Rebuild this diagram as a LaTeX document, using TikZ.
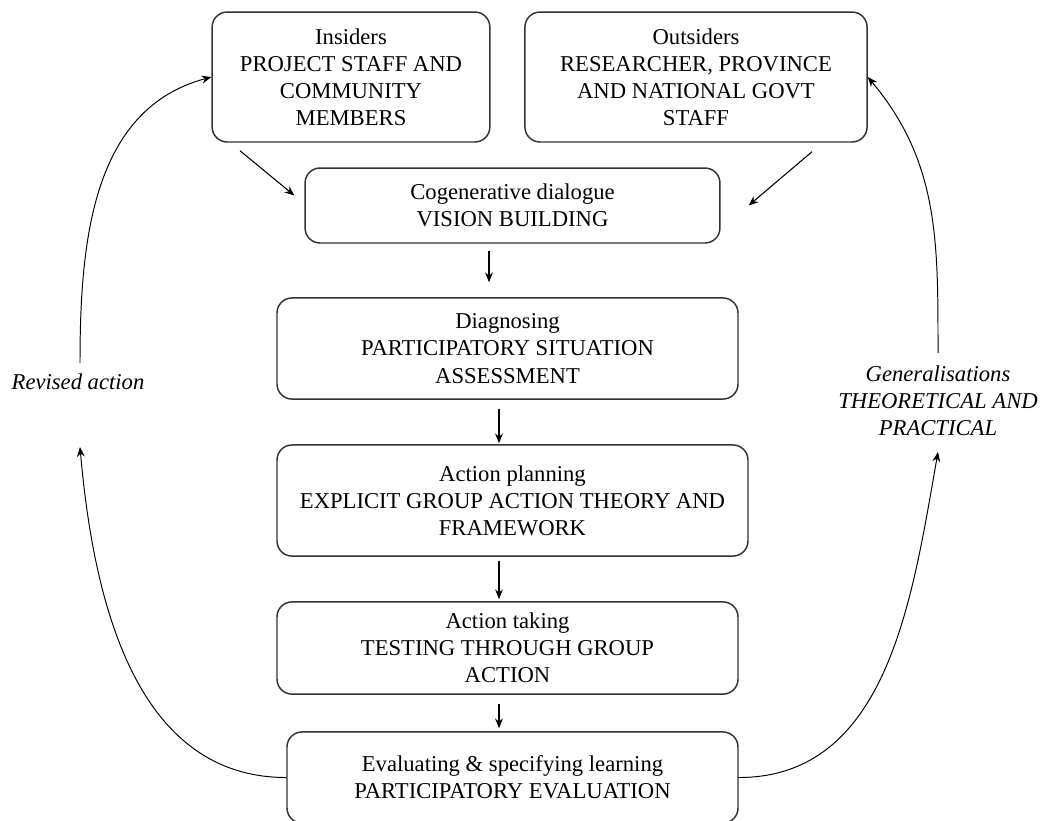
\documentclass[tikz,border=0pt]{standalone}
\usepackage{fontspec}
\setmainfont{Liberation Serif}
\usetikzlibrary{calc,arrows.meta}

\begin{document}
\begin{tikzpicture}[x=0.018cm,y=0.018cm,>={Stealth[length=5pt,width=4pt]},
  stage/.style={draw=black!80,line width=0.75pt,rounded corners=0.27cm,align=center,
    inner sep=2pt,font=\fontsize{11.6}{13.9}\selectfont},
  note/.style={align=center,font=\fontsize{11.6}{13.9}\selectfont\itshape},
  link/.style={->,line width=0.55pt},
  loop/.style={->,line width=0.5pt}]
  \useasboundingbox (0,0) rectangle (1042,-820);
  % the two groups at the top
  \node[stage,minimum width=5.0cm,minimum height=2.34cm] (ins) at (351,-77)
    {Insiders\\PROJECT STAFF AND\\COMMUNITY\\MEMBERS};
  \node[stage,minimum width=6.16cm,minimum height=2.34cm] (out) at (696,-77)
    {Outsiders\\RESEARCHER, PROVINCE\\AND NATIONAL GOVT\\STAFF};
  % the stages of the cycle
  \node[stage,minimum width=7.47cm,minimum height=1.35cm] (cog) at (512.5,-205.5)
    {Cogenerative dialogue\\VISION BUILDING};
  \node[stage,minimum width=8.3cm,minimum height=1.82cm] (diag) at (507.5,-348.5)
    {Diagnosing\\PARTICIPATORY SITUATION\\ASSESSMENT};
  \node[stage,minimum width=8.48cm,minimum height=2.0cm] (plan) at (512.5,-500.5)
    {Action planning\\EXPLICIT GROUP ACTION THEORY AND\\FRAMEWORK};
  \node[stage,minimum width=8.3cm,minimum height=1.66cm] (take) at (507.5,-648)
    {Action taking\\TESTING THROUGH GROUP\\ACTION};
  \node[stage,minimum width=8.12cm,minimum height=1.64cm] (eval) at (512.5,-777.5)
    {Evaluating \& specifying learning\\PARTICIPATORY EVALUATION};
  % side labels
  \node[note] (rev) at (78,-382) {Revised action};
  \node[note] (gen) at (938,-401) {Generalisations\\THEORETICAL AND\\PRACTICAL};
  \coordinate (revlo) at (80,-447);
  \coordinate (revhi) at (80,-363);
  \coordinate (genlo) at (938,-452);
  \coordinate (genhi) at (938,-353);
  % straight arrows
  \draw[link] ($(ins.south)+(-111,-8)$) -- ($(cog.west)+(-10,10)$);
  \draw[link] ($(out.south)+(116,-9)$) -- ($(cog.east)+(28,0)$);
  \draw[link] ($(cog.south)+(-23.5,-7)$) -- ($(diag.north)+(-18.5,15)$);
  \draw[link] ($(diag.south)+(-8.5,-9)$) -- ($(plan.north)+(-13.5,1)$);
  \draw[link] ($(plan.south)+(-13.5,-4)$) -- ($(take.north)+(-8.5,2)$);
  \draw[link] ($(take.south)+(-8.5,-9)$) -- ($(eval.north)+(-13.5,3)$);
  % the two feedback loops
  \draw[loop] (eval.west) to[out=180,in=-85] (revlo);
  \draw[loop] (revhi) to[out=90,in=195] (ins.west);
  \draw[loop] (eval.east) to[out=0,in=-100] (genlo);
  \draw[loop] (genhi) to[out=90,in=-50] (out.east);
\end{tikzpicture}
\end{document}
